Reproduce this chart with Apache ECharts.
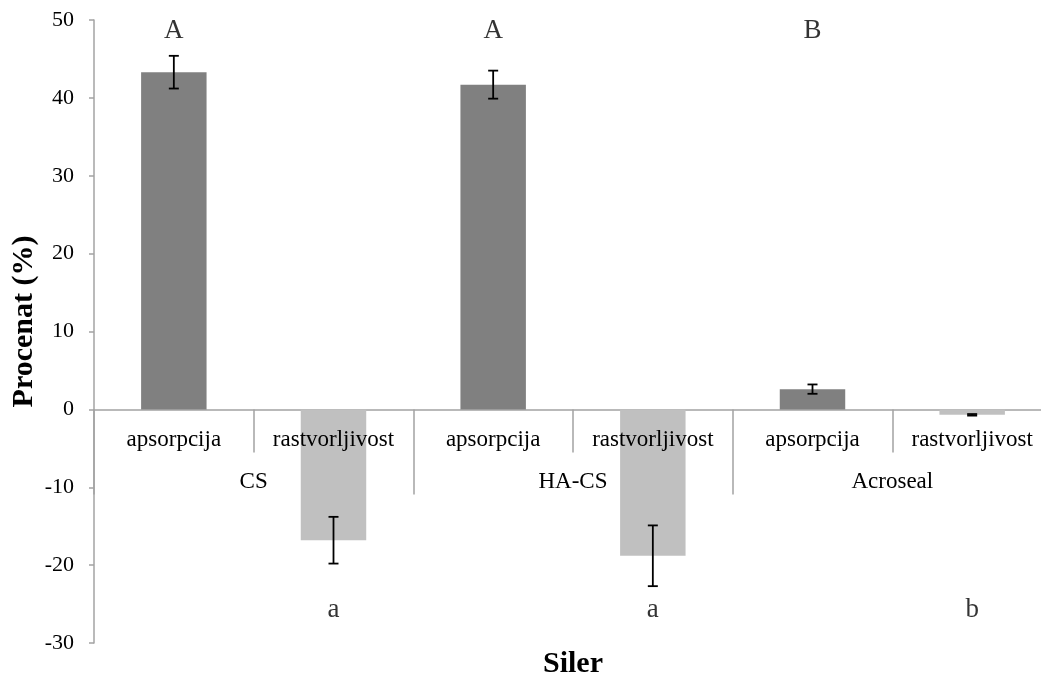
<!DOCTYPE html>
<html>
<head>
<meta charset="utf-8">
<title>Procenat (%) – Siler</title>
<script src="https://cdn.jsdelivr.net/npm/echarts@6/dist/echarts.min.js"></script>
<style>
  html, body { margin: 0; padding: 0; background: #ffffff; }
  #chart { width: 1041px; height: 675px; }
</style>
</head>
<body>
<div id="chart"></div>
<script>
// Measured quantities per sealer
const subCategories = ['apsorpcija', 'rastvorljivost', 'apsorpcija', 'rastvorljivost', 'apsorpcija', 'rastvorljivost'];
const groups = ['CS', 'HA-CS', 'Acroseal'];
const means = [43.3, -16.8, 41.7, -18.8, 2.6, -0.7];
const errors = [2.1, 3.0, 1.8, 3.9, 0.6, 0.1];
const yTicks = { min: -30, max: 50, step: 10 };

// Significance letters: upper row for absorption, lower row for solubility
const upperLetters = ['A', 'A', 'B'];   // over categories 0, 2, 4
const lowerLetters = ['a', 'a', 'b'];   // under categories 1, 3, 5

const FONT = 'Liberation Serif';
const AXIS_GRAY = '#a3a3a3';
const DARK = '#808080';
const LIGHT = '#c0c0c0';
const UPPER_ROW = 48.6;
const LOWER_ROW = -25.8;

// Plot frame
const G_LEFT = 94, G_RIGHT = -11, G_TOP = 20, G_BOTTOM = 32, H = 675;
const plotHeight = H - G_TOP - G_BOTTOM;
// pixel row of the zero line, where the category band hangs from
const zeroRow = G_TOP + plotHeight * (yTicks.max - 0) / (yTicks.max - yTicks.min);

const chart = echarts.init(document.getElementById('chart'), null, { renderer: 'canvas' });

const barData = means.map((v, i) => ({
  value: v,
  itemStyle: { color: i % 2 === 0 ? DARK : LIGHT }
}));

const errData = means.map((v, i) => [i, v, errors[i]]);

const letterData = [];
upperLetters.forEach((t, k) => letterData.push({ value: [k * 2, UPPER_ROW], name: t }));
lowerLetters.forEach((t, k) => letterData.push({ value: [k * 2 + 1, LOWER_ROW], name: t }));

const option = {
  backgroundColor: '#ffffff',
  animation: false,
  grid: [
    { left: G_LEFT, right: G_RIGHT, top: G_TOP, bottom: G_BOTTOM, containLabel: false, outerBoundsMode: 'none' },
    // band below the zero line carrying the two rows of category labels
    { left: G_LEFT, right: G_RIGHT, top: zeroRow, height: 100, containLabel: false, outerBoundsMode: 'none' }
  ],
  xAxis: [
    {
      gridIndex: 0,
      type: 'category',
      data: subCategories,
      position: 'bottom',
      axisLine: { onZero: true, lineStyle: { color: AXIS_GRAY, width: 1.5 } },
      axisTick: { show: false },
      axisLabel: { show: false },
      splitLine: { show: false }
    },
    {
      gridIndex: 1,
      type: 'category',
      data: subCategories,
      position: 'top',
      z: 10,
      axisLine: { show: false, onZero: false },
      axisTick: { show: true, inside: true, interval: 0, length: 43, lineStyle: { color: AXIS_GRAY, width: 1.5 } },
      axisLabel: { inside: true, interval: 0, margin: 19, color: '#000', fontFamily: FONT, fontSize: 23 },
      splitLine: { show: false }
    },
    {
      gridIndex: 1,
      type: 'category',
      data: groups,
      position: 'top',
      z: 10,
      axisLine: { show: false, onZero: false },
      axisTick: { show: true, inside: true, interval: 0, length: 85, lineStyle: { color: AXIS_GRAY, width: 1.5 } },
      axisLabel: { inside: true, interval: 0, margin: 61, color: '#000', fontFamily: FONT, fontSize: 23 },
      splitLine: { show: false }
    },
    {
      gridIndex: 0,
      type: 'category',
      data: groups,
      position: 'bottom',
      axisLine: { show: false, onZero: false },
      axisTick: { show: false },
      axisLabel: { show: false },
      name: 'Siler',
      nameLocation: 'middle',
      nameGap: 6,
      nameTextStyle: { color: '#000', fontFamily: FONT, fontSize: 30, fontWeight: 'bold' }
    }
  ],
  yAxis: [
    {
      gridIndex: 0,
      type: 'value',
      min: yTicks.min,
      max: yTicks.max,
      interval: yTicks.step,
      name: 'Procenat (%)',
      nameLocation: 'middle',
      nameGap: 55,
      nameMoveOverlap: false,
      nameTextStyle: { color: '#000', fontFamily: FONT, fontSize: 30, fontWeight: 'bold', padding: [0, 0, 0, 20] },
      axisLine: { show: true, lineStyle: { color: AXIS_GRAY, width: 1.5 } },
      axisTick: { show: true, length: 5, lineStyle: { color: AXIS_GRAY, width: 1.5 } },
      axisLabel: { margin: 20, color: '#000', fontFamily: FONT, fontSize: 22 },
      splitLine: { show: false }
    },
    {
      gridIndex: 1,
      type: 'value',
      min: 0,
      max: 1,
      show: false
    }
  ],
  series: [
    {
      type: 'bar',
      xAxisIndex: 0,
      yAxisIndex: 0,
      data: barData,
      barWidth: '41%'
    },
    {
      type: 'custom',
      xAxisIndex: 0,
      yAxisIndex: 0,
      data: errData,
      z: 5,
      renderItem: function (params, api) {
        const x = api.value(0);
        const m = api.value(1);
        const e = api.value(2);
        const hi = api.coord([x, m + e]);
        const lo = api.coord([x, m - e]);
        const cap = 5;
        const style = { stroke: '#000', lineWidth: 1.8 };
        return {
          type: 'group',
          children: [
            { type: 'line', shape: { x1: hi[0], y1: hi[1], x2: lo[0], y2: lo[1] }, style: style },
            { type: 'line', shape: { x1: hi[0] - cap, y1: hi[1], x2: hi[0] + cap, y2: hi[1] }, style: style },
            { type: 'line', shape: { x1: lo[0] - cap, y1: lo[1], x2: lo[0] + cap, y2: lo[1] }, style: style }
          ]
        };
      }
    },
    {
      type: 'scatter',
      xAxisIndex: 0,
      yAxisIndex: 0,
      data: letterData,
      symbolSize: 0,
      silent: true,
      label: {
        show: true,
        position: 'inside',
        formatter: p => p.name,
        color: '#000',
        fontFamily: FONT,
        fontSize: 27
      }
    }
  ]
};

chart.setOption(option);
</script>
</body>
</html>
